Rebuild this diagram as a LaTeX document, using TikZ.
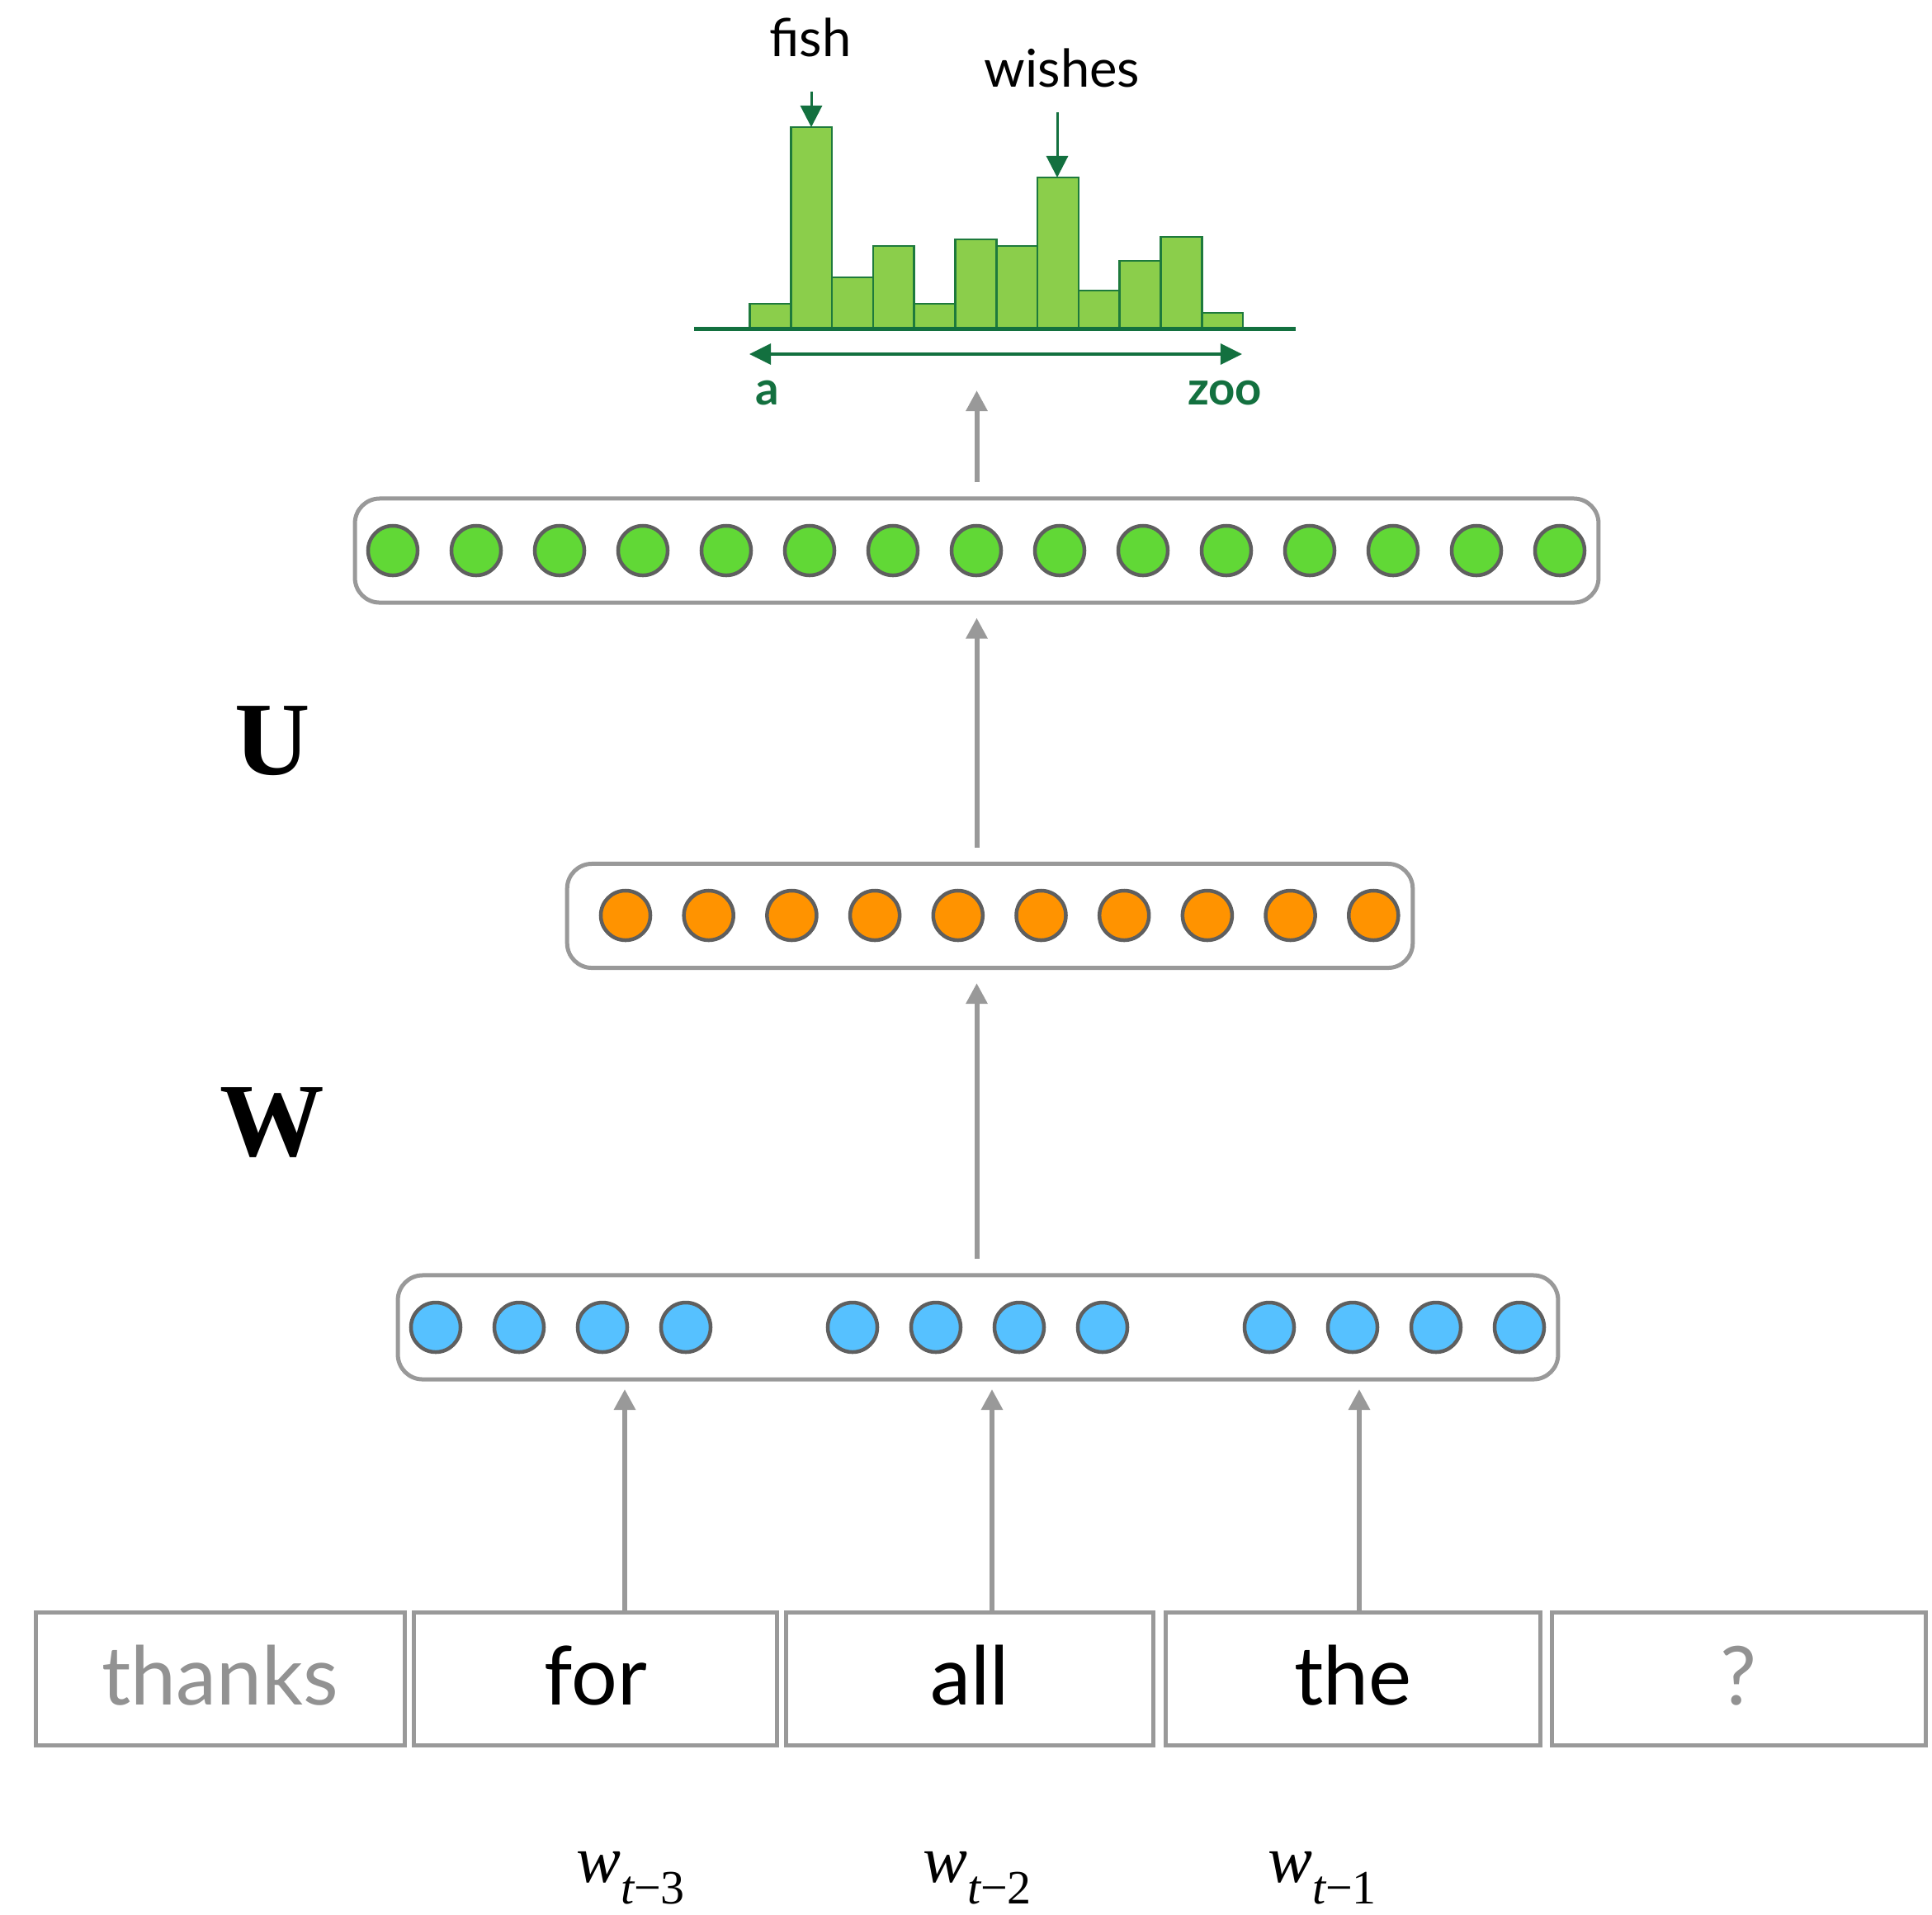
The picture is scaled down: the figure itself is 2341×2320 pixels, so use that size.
\documentclass[tikz,border=0pt]{standalone}
\usepackage{fontspec}
\setmainfont{Lato}
\newfontfamily\timesfont{Liberation Serif}
\usetikzlibrary{arrows.meta}

\definecolor{linegray}{HTML}{999999}
\definecolor{ringgray}{HTML}{5F5F5F}
\definecolor{neurgreen}{HTML}{61D836}
\definecolor{neurorange}{HTML}{FF9300}
\definecolor{neurblue}{HTML}{56C1FF}
\definecolor{barfill}{HTML}{8BCE4B}
\definecolor{baredge}{HTML}{1E7A3C}
\definecolor{darkgreen}{HTML}{13703F}
\definecolor{wordgray}{HTML}{929292}

% context word label: w with subscript t-k
\newcommand{\wsub}[1]{{\timesfont\fontsize{23}{27}\selectfont\itshape w\raisebox{-7.5pt}{\fontsize{16.5}{19}\selectfont\itshape t\upshape −#1}}}

\begin{document}
\begin{tikzpicture}[x=0.01cm, y=-0.01cm,
  layerbox/.style={draw=linegray, line width=0.05cm, rounded corners=0.3cm,
    minimum height=1.26cm, inner sep=0pt},
  unit/.style={circle, draw=ringgray, line width=0.045cm, minimum size=0.6cm, inner sep=0pt},
  feed/.style={draw=linegray, line width=0.06cm, -{Triangle[length=0.25cm,width=0.25cm]}},
  wordbox/.style={draw=linegray, line width=0.05cm, minimum height=1.61cm, inner sep=0pt,
    font=\fontsize{28}{34}\selectfont, text height=18pt, text depth=0pt},
  bar/.style={fill=barfill, draw=baredge, line width=0.025cm},
  pointer/.style={draw=darkgreen, line width=0.03cm, -{Triangle[length=0.26cm,width=0.26cm]}},
  matlabel/.style={anchor=base, font=\timesfont\bfseries\fontsize{36}{40}\selectfont}
]
\useasboundingbox (0,0) rectangle (2341,2320);

% ---- output distribution over the vocabulary ----
\foreach \h [count=\i from 0] in {368,154,336,298,368,290,298,215,352,316,287,379}
  \draw[bar] ({908.5+49.8*\i},398) rectangle ({958.3+49.8*\i},\h);
\draw[darkgreen, line width=0.05cm] (841,398) -- (1570,398);

\coordinate (aL) at (908,429);
\coordinate (aR) at (1505,429);
\draw[darkgreen, line width=0.035cm,
  {Triangle[length=0.26cm,width=0.25cm]}-{Triangle[length=0.26cm,width=0.25cm]}] (aL) -- (aR);
\node[anchor=base, text=darkgreen, font=\bfseries\fontsize{16}{19}\selectfont] (la) at (930,490) {a};
\node[anchor=base, text=darkgreen, font=\bfseries\fontsize{16}{19}\selectfont] (lz) at (1484,490) {zoo};

\node[anchor=base, font=\fontsize{18}{22}\selectfont] (fish) at (982,68) {fish};
\node[anchor=base, font=\fontsize{18}{22}\selectfont] (wishes) at (1287,105) {wishes};
\coordinate (fishfrom) at (983,111);
\coordinate (fishtop) at (983,154);
\coordinate (wishfrom) at (1281,136);
\coordinate (wishtop) at (1281,215);
\draw[pointer] (fishfrom) -- (fishtop);
\draw[pointer] (wishfrom) -- (wishtop);

% ---- layers ----
\node[layerbox, minimum width=15.06cm] (gbox) at (1183.5,667) {};
\node[layerbox, minimum width=10.24cm] (obox) at (1199.5,1109.5) {};
\node[layerbox, minimum width=14.05cm] (bbox) at (1185,1608) {};

\foreach \k in {0,...,14}
  \node[unit, fill=neurgreen] (g\k) at ({476+101*\k},667) {};
\foreach \k in {0,...,9}
  \node[unit, fill=neurorange] (o\k) at ({758+100.7*\k},1109) {};
\foreach \k in {0,1,2,3,5,6,7,8,10,11,12,13}
  \node[unit, fill=neurblue] (b\k) at ({528+101*\k},1608) {};

% weight matrices
\node[matlabel] (U) at (330,938) {U};
\node[matlabel] (W) at (330,1400) {W};

% ---- input words ----
\node[wordbox, minimum width=4.47cm, text=wordgray] (w0) at (267,2034) {thanks};
\node[wordbox, minimum width=4.40cm] (w1) at (721.5,2034) {for};
\node[wordbox, minimum width=4.45cm] (w2) at (1175,2034) {all};
\node[wordbox, minimum width=4.54cm] (w3) at (1639.5,2034) {the};
\node[wordbox, minimum width=4.53cm, text=wordgray] (w4) at (2107,2034) {?};

\node[anchor=base] (l3) at (764,2280) {\wsub{3}};
\node[anchor=base] (l2) at (1184,2280) {\wsub{2}};
\node[anchor=base] (l1) at (1602,2280) {\wsub{1}};

% ---- connections ----
\coordinate (t1) at (757,1683);
\coordinate (t2) at (1202,1683);
\coordinate (t3) at (1647,1683);
\draw[feed] (w1.north -| t1) -- (t1);
\draw[feed] (w2.north -| t2) -- (t2);
\draw[feed] (w3.north -| t3) -- (t3);

\draw[feed, shorten <=0.17cm, shorten >=0.16cm] (bbox.north -| gbox.south) -- (obox.south -| gbox.south);
\draw[feed, shorten <=0.17cm, shorten >=0.16cm] (obox.north -| gbox.south) -- (gbox.south);
\coordinate (hin) at (1183.5,473);
\draw[feed, shorten <=0.17cm] (gbox.north) -- (hin);
\end{tikzpicture}
\end{document}
